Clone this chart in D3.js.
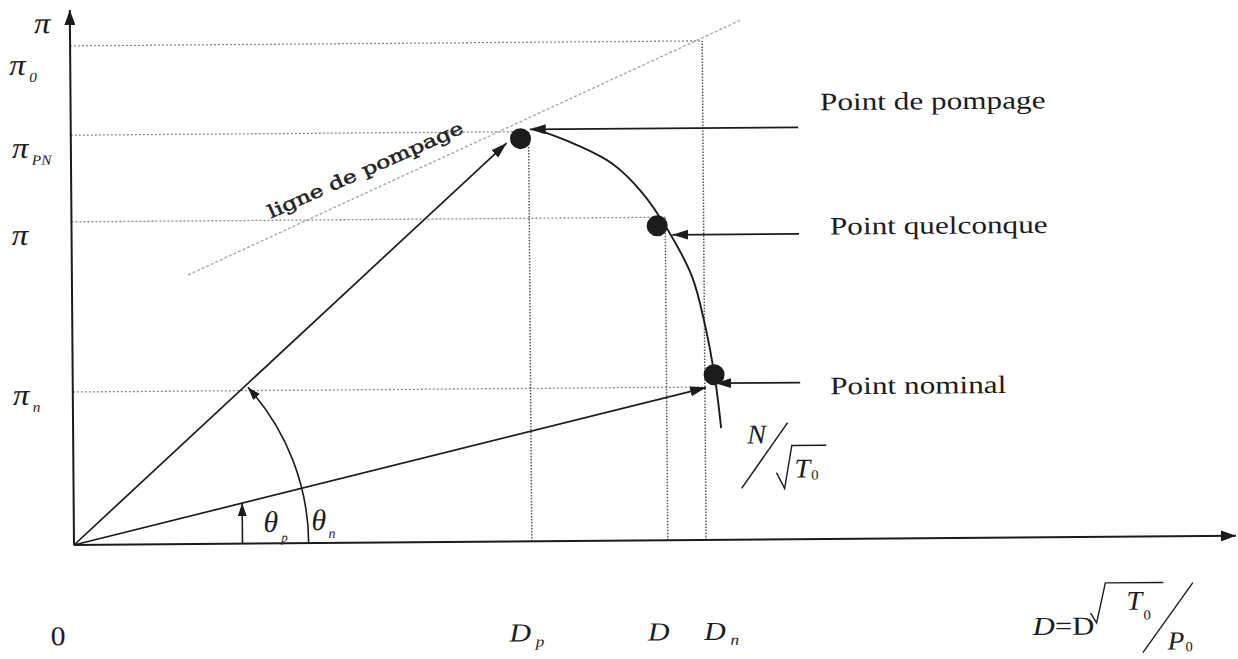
<!DOCTYPE html>
<html>
<head>
<meta charset="utf-8">
<script src="https://cdn.jsdelivr.net/npm/d3@7"></script>
<style>
  html, body { margin: 0; padding: 0; background: #fff; }
  svg { display: block; }
</style>
</head>
<body>
<svg id="chart" width="1238" height="659"></svg>
<script>
// Compressor map, arbitrary units (0–100) for reduced flow D and pressure ratio π.

// Pressure-ratio levels marked on the vertical axis (π0, πPN, π, πn)
const ratioSubs   = ["0", "PN", "", "n"];
const ratioLevels = [93.3, 76.6, 60.4, 28.6];
const ratioReach  = [54.4, 39.4, 51.1, 54.4];   // flow where each level guide stops

// Flow levels marked on the horizontal axis (Dp, D, Dn)
const flowSubs   = ["p", "", "n"];
const flowLevels = [39.4, 51.1, 54.4];
const flowReach  = [76.6, 60.4, 93.3];          // ratio where each flow guide stops

// Operating points on the speed line: surge, arbitrary, nominal
const pointNames = ["Point de pompage", "Point quelconque", "Point nominal"];
const pointFlow  = [38.7, 50.4, 55.2];
const pointRatio = [75.3, 58.8, 30.9];

// Callout arrows towards each point
const calloutLevel = [77.0, 57.1, 29.3];
const calloutTip   = [39.5, 51.7, 55.3];
const calloutStart = 62.6;

// Speed line N/√T0 (flow, ratio)
const speedFlow  = [39.85, 43.37, 46.56, 49.14, 51.29, 53.36, 54.45, 55.29, 55.77];
const speedRatio = [77.2, 74.2, 70.5, 65.0, 58.1, 49.3, 40.2, 29.9, 20.9];

// Surge line ends (flow, ratio)
const surgeFlow  = [10.0, 57.8];
const surgeRatio = [50.3, 97.2];

// Operating vectors from the origin: towards surge and towards nominal
const vectorFlow  = [37.5, 54.5];
const vectorRatio = [74.5, 28.5];

// Angle marks
const thetaArcRadius = 20.2;   // flow units
const thetaMarkFlow  = 14.5;

const serif = "'Liberation Serif', 'Times New Roman', serif";
const ink = "#1c1c1c";

const svg = d3.select("#chart");
const x = d3.scaleLinear().domain([0, 100]).range([74, 1236]);
const y = d3.scaleLinear().domain([0, 100]).range([545, 10]);

const defs = svg.append("defs");
function marker(id, len, half) {
  defs.append("marker")
    .attr("id", id)
    .attr("viewBox", `0 ${-half} ${len} ${2 * half}`)
    .attr("refX", len).attr("refY", 0)
    .attr("markerWidth", len).attr("markerHeight", 2 * half)
    .attr("markerUnits", "userSpaceOnUse")
    .attr("orient", "auto")
    .append("path")
    .attr("d", `M0,${-half}L${len},0L0,${half}Z`)
    .attr("fill", ink);
}
marker("head", 16, 5);
marker("smallHead", 13, 4.5);
marker("axisHead", 15, 5.5);

// whole figure sits slightly skewed on the page
const g = svg.append("g")
  .attr("transform", `rotate(-0.45 ${x(0)} ${y(0)})`);

// ---- dotted guides
ratioLevels.forEach((v, i) => {
  g.append("line")
    .attr("x1", x(0)).attr("x2", x(ratioReach[i]))
    .attr("y1", y(v)).attr("y2", y(v))
    .attr("stroke", "#8a8a8a").attr("stroke-width", 1.3)
    .attr("stroke-dasharray", "2,2");
});
flowLevels.forEach((v, i) => {
  g.append("line")
    .attr("x1", x(v)).attr("x2", x(v))
    .attr("y1", y(0)).attr("y2", y(flowReach[i]))
    .attr("stroke", "#555").attr("stroke-width", 1.5)
    .attr("stroke-dasharray", "1.5,1.5");
});

// ---- surge line
g.append("line")
  .attr("x1", x(surgeFlow[0])).attr("y1", y(surgeRatio[0]))
  .attr("x2", x(surgeFlow[1])).attr("y2", y(surgeRatio[1]))
  .attr("stroke", "#a8a8a8").attr("stroke-width", 1.4)
  .attr("stroke-dasharray", "3,2");

// ---- axes
g.append("line")
  .attr("x1", x(0)).attr("y1", y(0)).attr("x2", x(100)).attr("y2", y(0))
  .attr("stroke", ink).attr("stroke-width", 2)
  .attr("marker-end", "url(#axisHead)");
g.append("line")
  .attr("x1", x(0)).attr("y1", y(0)).attr("x2", x(0)).attr("y2", y(100))
  .attr("stroke", ink).attr("stroke-width", 2)
  .attr("marker-end", "url(#axisHead)");

// ---- operating vectors
vectorFlow.forEach((v, i) => {
  g.append("line")
    .attr("x1", x(0)).attr("y1", y(0))
    .attr("x2", x(v)).attr("y2", y(vectorRatio[i]))
    .attr("stroke", ink).attr("stroke-width", 1.7)
    .attr("marker-end", "url(#head)");
});

// ---- speed line
const speedPts = speedFlow.map((f, i) => [x(f), y(speedRatio[i])]);
g.append("path")
  .attr("d", d3.line().curve(d3.curveCatmullRom.alpha(0.5))(speedPts))
  .attr("fill", "none").attr("stroke", ink).attr("stroke-width", 1.9);

// ---- angle θp arc with arrow
{
  const ox = x(0), oy = y(0);
  const r = x(thetaArcRadius) - x(0);
  const a = Math.atan2(oy - y(vectorRatio[0]), x(vectorFlow[0]) - ox) - 0.012;
  const ex = ox + r * Math.cos(a), ey = oy - r * Math.sin(a);
  g.append("path")
    .attr("d", `M${ox + r},${oy} A${r},${r} 0 0 0 ${ex},${ey}`)
    .attr("fill", "none").attr("stroke", ink).attr("stroke-width", 1.6)
    .attr("marker-end", "url(#smallHead)");
}
// ---- angle θn mark
{
  const top = vectorRatio[1] * thetaMarkFlow / vectorFlow[1];
  g.append("line")
    .attr("x1", x(thetaMarkFlow)).attr("x2", x(thetaMarkFlow))
    .attr("y1", y(0)).attr("y2", y(top))
    .attr("stroke", ink).attr("stroke-width", 1.6)
    .attr("marker-end", "url(#smallHead)");
}

// ---- callouts
calloutLevel.forEach((v, i) => {
  g.append("line")
    .attr("x1", x(calloutStart)).attr("x2", x(calloutTip[i]))
    .attr("y1", y(v)).attr("y2", y(v))
    .attr("stroke", ink).attr("stroke-width", 1.8)
    .attr("marker-end", "url(#head)");
});

// ---- operating points
pointFlow.forEach((f, i) => {
  g.append("circle")
    .attr("cx", x(f)).attr("cy", y(pointRatio[i]))
    .attr("r", 10.5).attr("fill", ink);
});

// ---- text helpers
function label(px, py, parts, sx = 1.2) {
  const t = g.append("text")
    .attr("transform", `translate(${px},${py}) scale(${sx},1)`)
    .attr("font-family", serif).attr("fill", ink);
  parts.forEach(p => {
    const s = t.append("tspan").text(p.t)
      .attr("font-size", p.size)
      .attr("font-style", p.italic ? "italic" : "normal");
    if (p.dx) s.attr("dx", p.dx);
    if (p.dy) s.attr("dy", p.dy);
  });
  return t;
}

// callout texts
const calloutTextDy = [-17, 1, 12];
const calloutTextDx = [22, 31, 30];
pointNames.forEach((name, i) => {
  label(x(calloutStart) + calloutTextDx[i], y(calloutLevel[i]) + calloutTextDy[i],
        [{t: name, size: 25}], 1.25);
});

// vertical axis labels
label(x(0) - 36, y(100) + 23, [{t: "π", size: 30, italic: true}], 1.1);
const ratioLabelDy = [28.7, 22.3, 22.6, 12.5];
const ratioLabelDx = [-61, -59, -60, -60];
ratioLevels.forEach((v, i) => {
  const parts = [{t: "π", size: 30, italic: true}];
  if (ratioSubs[i]) parts.push({t: ratioSubs[i], size: 14, italic: true, dx: 3, dy: 7});
  label(x(0) + ratioLabelDx[i], y(v) + ratioLabelDy[i], parts, 1.1);
});

// horizontal axis labels
label(x(0) - 24, y(0) + 100, [{t: "0", size: 27}], 1.1);
const flowLabelDx = [-23, -20.5, -2.6];
flowLevels.forEach((v, i) => {
  const parts = [{t: "D", size: 26, italic: true}];
  if (flowSubs[i]) parts.push({t: flowSubs[i], size: 15, italic: true, dx: 4, dy: 5});
  label(x(v) + flowLabelDx[i], y(0) + 100, parts, 1.15);
});

// angle labels
label(x(thetaMarkFlow) + 21, y(0) - 11.5,
      [{t: "θ", size: 30, italic: true}, {t: "p", size: 13, italic: true, dx: 3, dy: 10}], 1.0);
label(x(thetaArcRadius) + 3, y(0) - 13,
      [{t: "θ", size: 30, italic: true}, {t: "n", size: 14, italic: true, dx: 2, dy: 8}], 1.0);

// surge line label
{
  const x0 = x(surgeFlow[0]), y0 = y(surgeRatio[0]);
  const x1 = x(surgeFlow[1]), y1 = y(surgeRatio[1]);
  const ang = Math.atan2(y1 - y0, x1 - x0) * 180 / Math.PI;
  const along = 99, off = -16.5;
  const len = Math.hypot(x1 - x0, y1 - y0);
  const ux = (x1 - x0) / len, uy = (y1 - y0) / len;
  const px = x0 + ux * along - uy * off, py = y0 + uy * along + ux * off;
  g.append("text")
    .attr("transform", `translate(${px},${py}) rotate(${ang + 0.8})`)
    .attr("font-family", "'DejaVu Serif', serif").attr("font-size", 18)
    .attr("fill", "#222").attr("stroke", "#222").attr("stroke-width", 0.5)
    .attr("textLength", 212).attr("lengthAdjust", "spacingAndGlyphs")
    .text("ligne de pompage");
}

// speed line label N / √T0
{
  const ax = x(speedFlow[speedFlow.length - 1]), ay = y(speedRatio[speedRatio.length - 1]);
  label(ax + 26, ay + 15.5, [{t: "N", size: 27, italic: true}], 1.05);
  g.append("line")
    .attr("x1", ax + 20).attr("y1", ay + 60.5)
    .attr("x2", ax + 66.5).attr("y2", ay - 5)
    .attr("stroke", ink).attr("stroke-width", 1.5);
  g.append("path")
    .attr("d", `M${ax + 55},${ay + 45} L${ax + 63},${ay + 61} L${ax + 70.5},${ay + 18} L${ax + 105},${ay + 18}`)
    .attr("fill", "none").attr("stroke", ink).attr("stroke-width", 1.4);
  label(ax + 73, ay + 50, [{t: "T", size: 27, italic: true},
                           {t: "0", size: 14, dx: 1, dy: 2}], 1.05);
}

// flow definition D = D √T0 / P0
{
  const bx = x(100), by = y(0);
  label(bx - 204, by + 97.5, [{t: "D", size: 26, italic: true}, {t: "=D", size: 26}], 1.18);
  g.append("path")
    .attr("d", `M${bx - 146},${by + 76} L${bx - 140},${by + 86} L${bx - 131},${by + 46} L${bx - 73},${by + 46}`)
    .attr("fill", "none").attr("stroke", ink).attr("stroke-width", 1.4);
  label(bx - 110, by + 73, [{t: "T", size: 27, italic: true},
                            {t: "0", size: 14, dx: 1, dy: 10}], 1.05);
  g.append("line")
    .attr("x1", bx - 94).attr("y1", by + 116)
    .attr("x2", bx - 43.5).attr("y2", by + 46.5)
    .attr("stroke", ink).attr("stroke-width", 1.4);
  label(bx - 69, by + 113, [{t: "P", size: 26, italic: true},
                            {t: "0", size: 14, dx: 1, dy: 2}], 1.05);
}
</script>
</body>
</html>
